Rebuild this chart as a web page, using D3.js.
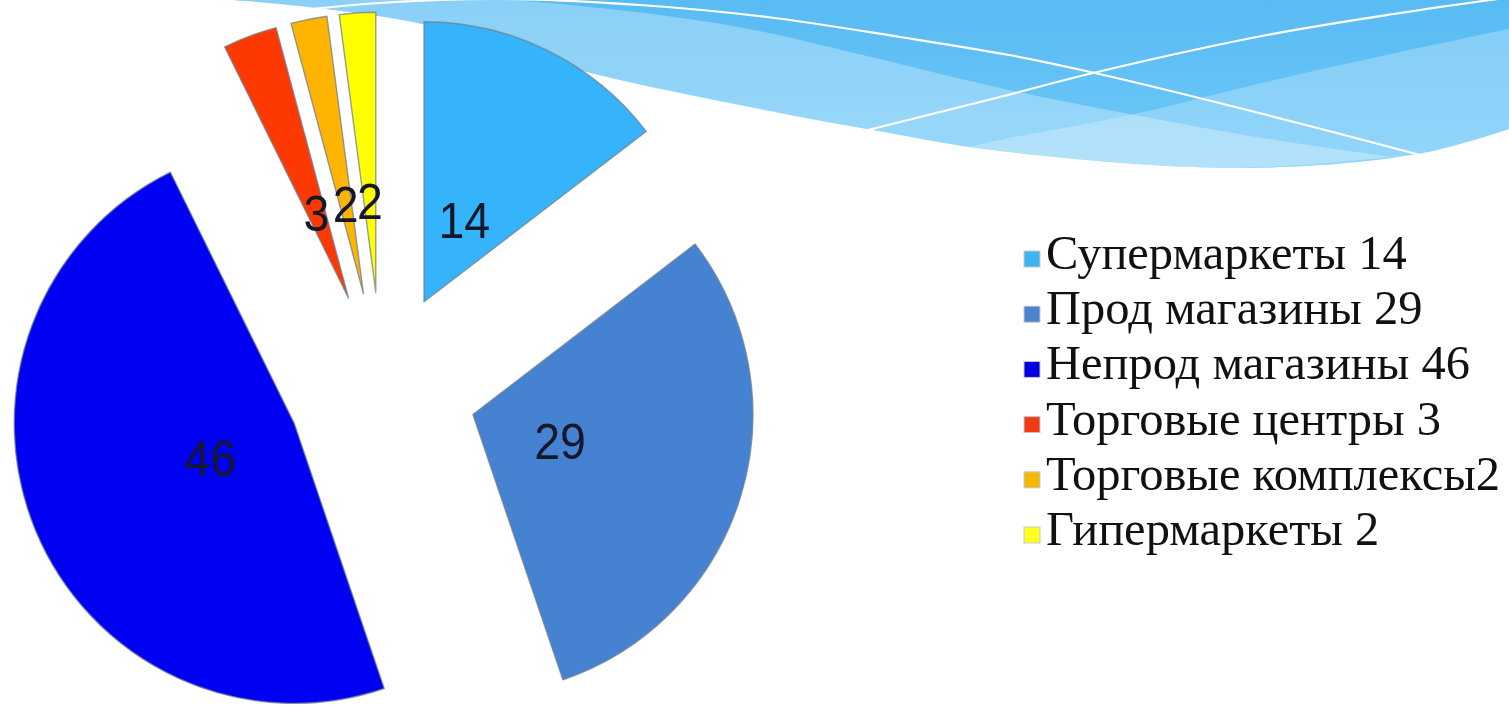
<!DOCTYPE html>
<html>
<head>
<meta charset="utf-8">
<script src="https://cdn.jsdelivr.net/npm/d3@7"></script>
<style>
  html, body { margin: 0; padding: 0; background: #ffffff; overflow: hidden; }
  svg { display: block; }
</style>
</head>
<body>
<svg id="chart" width="1509" height="706"></svg>
<script>
// ---- data ----
const categories = ["Супермаркеты", "Прод магазины", "Непрод магазины", "Торговые центры", "Торговые комплексы", "Гипермаркеты"];
const values = [14, 29, 46, 3, 2, 2];
const legendLabels = ["Супермаркеты 14", "Прод магазины 29", "Непрод магазины 46", "Торговые центры 3", "Торговые комплексы2", "Гипермаркеты 2"];
const sliceColors = ["#35b4fb", "#4682d2", "#0000f2", "#fd3800", "#ffb400", "#ffff00"];
const legendColors = ["#3cb5f0", "#4a84cf", "#0000e0", "#ee3b12", "#f5b800", "#ffff22"];

// ---- decorative background wave points ----
const outerEdge = [[205,-2],[300,6],[427,25],[579,70],[700,97],[867,129],[1000,151],[1233,168],[1418,154],[1512,128]];
const bandLTop = [[1430,162],[1400,158],[1250,136],[1130,114],[1000,88],[867,56],[733,26],[560,4],[420,-4]];
const bandRTop = [[1512,28],[1300,74],[1130,115],[1000,140],[950,152]];
const lineA = [[868,130],[1000,97],[1093,73],[1267,35],[1400,13],[1512,-3]];
const lineB = [[285,12],[380,3],[500,-1],[640,5],[767,17],[900,37],[1009,55],[1095,73],[1267,115],[1420,155]];

const svg = d3.select("#chart");

const defs = svg.append("defs");
const g1 = defs.append("linearGradient").attr("id","waveGrad").attr("x1",0).attr("y1",0).attr("x2",0).attr("y2",1);
g1.append("stop").attr("offset","0%").attr("stop-color","#58bbf3");
g1.append("stop").attr("offset","100%").attr("stop-color","#6ec8f8");

const smooth = d3.line().curve(d3.curveCatmullRom.alpha(0.5));

const waveG = svg.append("g");
waveG.append("path")
  .attr("d", smooth(outerEdge) + "L1512,-3L205,-3Z")
  .attr("fill", "url(#waveGrad)");

waveG.append("path")
  .attr("d", smooth(outerEdge.slice(0,9)) + "L1430,162" + smooth(bandLTop).replace("M","L") + "Z")
  .attr("fill", "#ffffff").attr("fill-opacity", 0.30);

defs.append("clipPath").attr("id","waveClip")
  .append("path").attr("d", smooth(outerEdge) + "L1512,-3L205,-3Z");
waveG.append("path")
  .attr("clip-path","url(#waveClip)")
  .attr("d", smooth(bandRTop) + "L900,200L1512,200Z")
  .attr("fill", "#ffffff").attr("fill-opacity", 0.25);

waveG.append("path").attr("d", smooth(lineA)).attr("fill","none").attr("stroke","#ffffff").attr("stroke-width",2.2);
waveG.append("path").attr("d", smooth(lineB)).attr("fill","none").attr("stroke","#ffffff").attr("stroke-width",2.2);

// ---- pie ----
const cx = 382, cy = 387, R = 280, explode = 95, labelDist = 91;
const data = categories.map((c, i) => ({ cat: c, value: values[i], color: sliceColors[i] }));
const pie = d3.pie().value(d => d.value).sort(null).startAngle(0).endAngle(2 * Math.PI);
const arc = d3.arc().innerRadius(0).outerRadius(R);
const arcs = pie(data);

const pieG = svg.append("g").attr("transform", `translate(${cx},${cy})`);
const slice = pieG.selectAll("g.slice").data(arcs).enter().append("g")
  .attr("class","slice")
  .attr("transform", d => {
    const a = (d.startAngle + d.endAngle) / 2;
    return `translate(${explode * Math.sin(a)},${-explode * Math.cos(a)})`;
  });

slice.append("path")
  .attr("d", arc)
  .attr("fill", d => d.data.color)
  .attr("stroke", "#6f7f8f")
  .attr("stroke-opacity", 0.75)
  .attr("stroke-width", 1.4)
  .attr("stroke-linejoin", "round");

slice.append("text")
  .attr("transform", d => {
    const a = (d.startAngle + d.endAngle) / 2;
    return `translate(${labelDist * Math.sin(a)},${-labelDist * Math.cos(a)}) scale(0.93,1)`;
  })
  .attr("text-anchor", "middle")
  .attr("dominant-baseline", "central")
  .attr("font-family", "'Liberation Sans', Arial, sans-serif")
  .attr("font-size", 50)
  .attr("fill", "#14182a")
  .text(d => d.data.value);

// ---- legend ----
const legendX = 1024, legendY0 = 269, legendStep = 55.2;
const legG = svg.append("g");
const items = legG.selectAll("g.item").data(legendLabels).enter().append("g")
  .attr("class","item")
  .attr("transform", (d, i) => `translate(${legendX},${legendY0 + i * legendStep})`);
items.append("rect")
  .attr("x", 0).attr("y", -18).attr("width", 16).attr("height", 16)
  .attr("fill", (d, i) => legendColors[i])
  .attr("stroke", "#c8c8c8").attr("stroke-width", 1);
items.append("text")
  .attr("x", 22).attr("y", 0)
  .attr("font-family", "'Liberation Serif', 'Times New Roman', serif")
  .attr("font-size", 48.5)
  .attr("fill", "#111111")
  .text(d => d);
</script>
</body>
</html>
